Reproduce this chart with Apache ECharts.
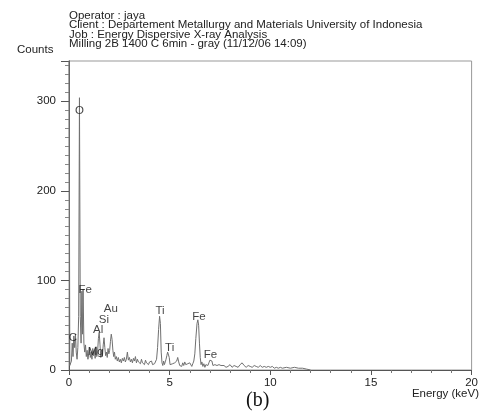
<!DOCTYPE html>
<html><head><meta charset="utf-8">
<script src="https://cdn.jsdelivr.net/npm/echarts@6/dist/echarts.min.js"></script>
<style>html,body{margin:0;padding:0;background:#fff}#c{width:481px;height:419px}</style>
</head><body><div id="c"></div>
<script>
const headerLines = [
  "Operator : jaya",
  "Client : Departement Metallurgy and Materials University of Indonesia",
  "Job : Energy Dispersive X-ray Analysis",
  "Milling 2B 1400 C 6min - gray (11/12/06 14:09)"
];
const xTicks = [0, 5, 10, 15, 20];
const yTicks = [0, 100, 200, 300];
// spectrum: [energy keV, counts]
const spectrum = [
  [0.0,400],[0.04,5],[0.08,3],[0.12,10],[0.16,30],[0.2,15],[0.24,38],[0.28,25],[0.32,40],[0.36,20],
  [0.40,12],[0.44,25],[0.48,60],[0.52,304],[0.56,60],[0.60,30],[0.64,88],[0.67,40],[0.70,90],[0.74,30],
  [0.78,20],[0.82,28],[0.86,15],[0.90,22],[0.94,12],[0.98,18],[1.02,25],[1.06,14],[1.10,20],[1.14,12],
  [1.18,24],[1.22,16],[1.26,22],[1.30,13],[1.34,26],[1.38,15],[1.42,20],[1.46,35],[1.50,42],[1.54,28],
  [1.58,14],[1.62,22],[1.66,15],[1.70,28],[1.74,36],[1.78,25],[1.82,16],[1.86,20],[1.90,14],[1.94,24],
  [1.98,18],[2.02,22],[2.06,32],[2.10,40],[2.14,34],[2.18,22],[2.22,15],[2.26,20],[2.30,12],[2.35,15],
  [2.40,10],[2.45,14],[2.50,9],[2.55,12],[2.60,8],[2.65,13],[2.70,10],[2.75,14],[2.80,9],[2.85,12],
  [2.90,20],[2.95,11],[3.0,14],[3.05,9],[3.1,12],[3.15,8],[3.2,13],[3.25,10],[3.3,15],[3.35,8],
  [3.4,12],[3.45,9],[3.5,11],[3.55,7],[3.6,12],[3.65,8],[3.7,10],[3.75,6],[3.8,11],[3.85,8],
  [3.9,10],[3.95,6],[4.0,9],[4.05,7],[4.1,10],[4.15,6],[4.2,8],[4.25,7],[4.3,9],[4.35,12],
  [4.40,25],[4.45,45],[4.50,60],[4.54,52],[4.58,20],[4.62,8],[4.66,5],[4.70,10],[4.74,6],[4.78,9],
  [4.82,12],[4.86,16],[4.90,20],[4.94,22],[4.98,14],[5.02,6],[5.06,8],[5.10,4],[5.15,7],[5.20,5],
  [5.25,8],[5.30,6],[5.35,10],[5.40,14],[5.45,9],[5.50,5],[5.55,7],[5.60,4],[5.65,8],[5.70,5],
  [5.75,9],[5.80,6],[5.85,4],[5.90,7],[5.95,5],[6.0,8],[6.05,6],[6.10,4],[6.15,7],[6.20,10],
  [6.25,18],[6.30,35],[6.36,52],[6.40,56],[6.44,50],[6.48,30],[6.52,14],[6.56,6],[6.60,9],[6.65,4],
  [6.70,7],[6.75,3],[6.80,6],[6.85,4],[6.90,5],[6.95,8],[7.00,11],[7.05,13],[7.10,10],[7.15,5],
  [7.20,3],[7.25,6],[7.30,4],[7.35,5],[7.40,3],[7.45,6],[7.50,4],[7.55,5],[7.60,3],[7.70,5],
  [7.80,3],[7.90,4],[8.0,6],[8.1,3],[8.2,5],[8.3,4],[8.4,3],[8.5,6],[8.6,8],[8.7,5],
  [8.8,3],[8.9,5],[9.0,4],[9.1,3],[9.2,5],[9.3,4],[9.4,3],[9.5,5],[9.6,3],[9.7,4],
  [9.8,3],[9.9,4],[10.0,3],[10.1,4],[10.2,2],[10.3,3],[10.4,2],[10.5,3],[10.6,2],[10.8,3],
  [11.0,2],[11.2,3],[11.4,2],[11.6,2],[11.8,1],[12.0,0]
];
// element labels
const peakNames  = ["O",  "Fe", "C",  "Mg", "Al", "Si", "Au", "Ti", "Ti", "Fe", "Fe"];
const peakLabelX = [0.52, 0.80, 0.20, 1.33, 1.45, 1.73, 2.08, 4.52, 5.00, 6.45, 7.03];
const peakLabelY = [289,  89,   36,   20,   45,   56,   68,   66,   25,   59,   17];

const chart = echarts.init(document.getElementById('c'), null, {renderer: 'canvas'});
const font = 'Liberation Sans, Arial, sans-serif';
const fs = 11.5;
const axisCol = '#555';
chart.setOption({
  animation: false,
  backgroundColor: '#ffffff',
  title: {
    text: headerLines.join('\n'),
    left: 64, top: 6,
    textStyle: {fontFamily: font, fontSize: fs, fontWeight: 'normal', color: '#222', lineHeight: 9.4}
  },
  grid: {left: 69, top: 61, right: 6, bottom: 49, show: true, borderColor: '#999', borderWidth: 1},
  xAxis: {
    type: 'value', min: xTicks[0], max: xTicks[xTicks.length - 1], interval: 5,
    axisLine: {lineStyle: {color: axisCol}},
    axisTick: {length: 5, lineStyle: {color: axisCol}},
    minorTick: {show: true, splitNumber: 5, length: 3, lineStyle: {color: '#777'}},
    splitLine: {show: false},
    axisLabel: {fontFamily: font, fontSize: fs, color: '#222', margin: 7,
      formatter: v => xTicks.includes(v) ? String(v) : ''}
  },
  yAxis: {
    type: 'value', min: 0, max: 345, interval: 100, offset: 3,
    axisLine: {show: true, lineStyle: {color: axisCol}},
    axisTick: {show: true, length: 8, lineStyle: {color: axisCol}},
    minorTick: {show: true, splitNumber: 10, length: 4, lineStyle: {color: '#888'}},
    splitLine: {show: false},
    axisLabel: {fontFamily: font, fontSize: fs, color: '#222', margin: 10,
      formatter: v => yTicks.includes(v) ? String(v) : ''},
    showMaxLabel: false
  },
  graphic: [
    {type: 'text', left: 17, top: 44, style: {text: 'Counts', font: fs + 'px ' + font, fill: '#222'}},
    {type: 'text', right: 2, top: 388, style: {text: 'Energy (keV)', font: fs + 'px ' + font, fill: '#222'}},
    {type: 'text', left: 246, top: 391, style: {text: '(b)', font: '20px Liberation Serif, Times New Roman, serif', fill: '#111'}}
  ],
  series: [
    {
      type: 'line', data: spectrum, showSymbol: false, symbol: 'none',
      lineStyle: {color: '#707070', width: 1}, clip: true, z: 2
    },
    {
      type: 'scatter', symbolSize: 0, z: 3,
      data: peakNames.map((n, i) => ({name: n, value: [peakLabelX[i], peakLabelY[i]]})),
      label: {show: true, position: 'inside', formatter: p => p.name,
        fontFamily: font, fontSize: fs, color: '#111'}
    }
  ]
});
</script></body></html>
